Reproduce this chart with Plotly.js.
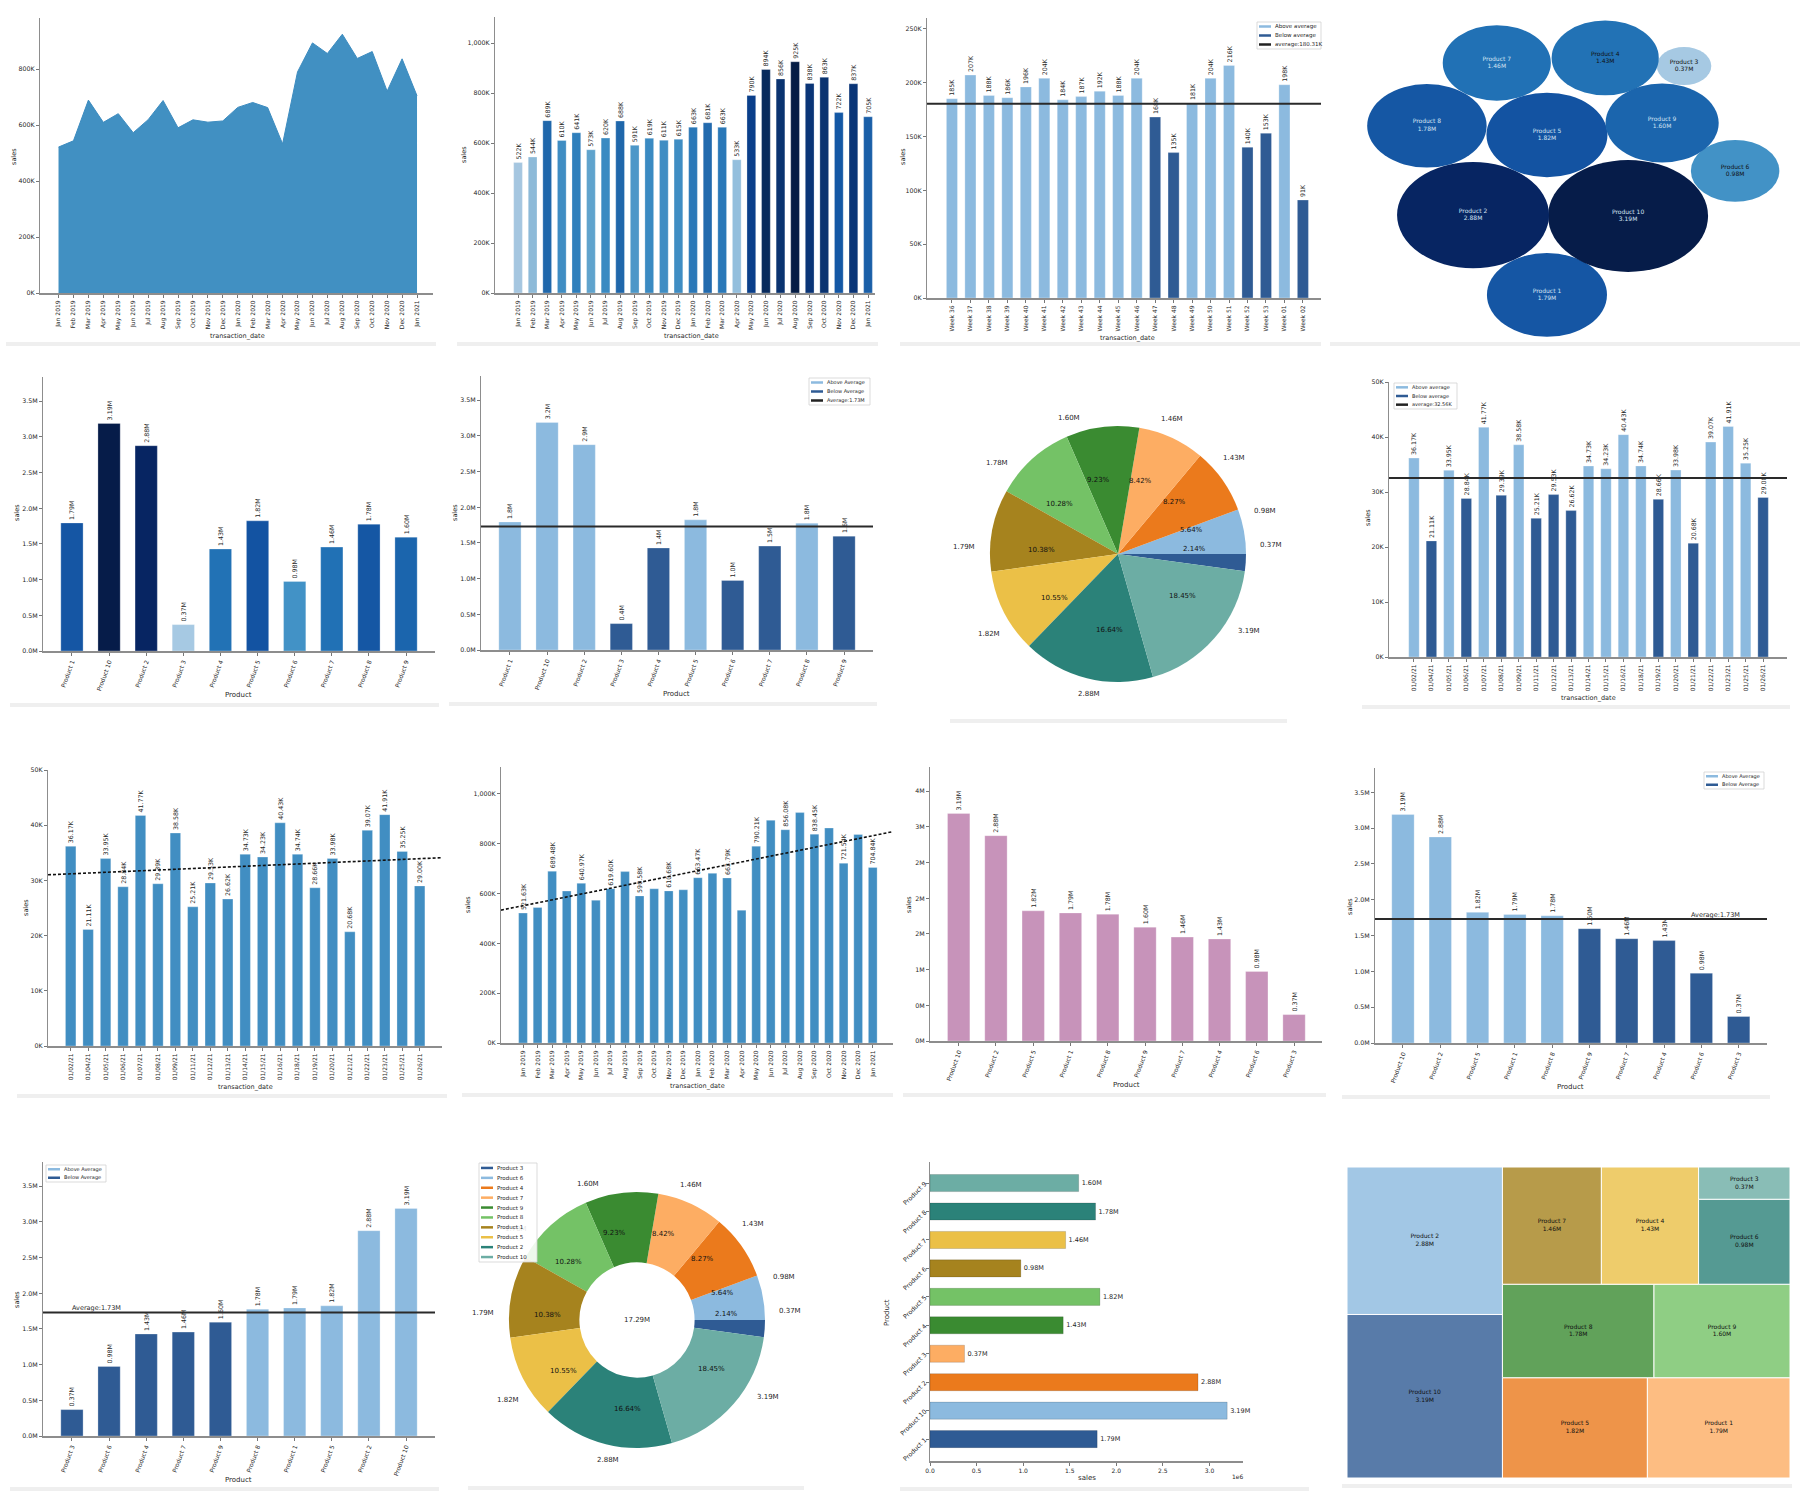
<!DOCTYPE html>
<html><head><meta charset="utf-8">
<script src="https://cdn.plot.ly/plotly-3.0.1.min.js"></script>
<style>
html,body{margin:0;padding:0;background:#fff;width:1800px;height:1500px;overflow:hidden;position:relative}
.pn{position:absolute}
.band{position:absolute;height:4px;background:#efefef}
</style></head><body>
<script>
// ================= DATA =================
const months = ['Jan 2019','Feb 2019','Mar 2019','Apr 2019','May 2019','Jun 2019','Jul 2019','Aug 2019','Sep 2019','Oct 2019','Nov 2019','Dec 2019','Jan 2020','Feb 2020','Mar 2020','Apr 2020','May 2020','Jun 2020','Jul 2020','Aug 2020','Sep 2020','Oct 2020','Nov 2020','Dec 2020','Jan 2021'];
const monthlySalesK = [521.63,544,689.48,610,640.97,573,619.60,688,590.58,619,610.68,615,663.47,681,662.79,533,790.21,894,856.08,925,838.45,863,721.54,837,704.84];

const weeks = ['Week 36','Week 37','Week 38','Week 39','Week 40','Week 41','Week 42','Week 43','Week 44','Week 45','Week 46','Week 47','Week 48','Week 49','Week 50','Week 51','Week 52','Week 53','Week 01','Week 02'];
const weeklySalesK = [185,207,188,186,196,204,184,187,192,188,204,168,135,181,204,216,140,153,198,91];
const weeklyAverageK = 180.31;

const days = ['01/02/21','01/04/21','01/05/21','01/06/21','01/07/21','01/08/21','01/09/21','01/11/21','01/12/21','01/13/21','01/14/21','01/15/21','01/16/21','01/18/21','01/19/21','01/20/21','01/21/21','01/22/21','01/23/21','01/25/21','01/26/21'];
const dailySalesK = [36.17,21.11,33.95,28.84,41.77,29.39,38.58,25.21,29.53,26.62,34.73,34.23,40.43,34.74,28.66,33.98,20.68,39.07,41.91,35.25,29.00];
const dailyAverageK = 32.56;

const products = ['Product 1','Product 10','Product 2','Product 3','Product 4','Product 5','Product 6','Product 7','Product 8','Product 9'];
const productSalesM = [1.7947,3.1900,2.8771,0.3700,1.4299,1.8241,0.9752,1.4558,1.7774,1.5959];
const productAverageM = 1.73;

// ================= STYLES =================
const F = "DejaVu Sans, Verdana, sans-serif";
const TXT = '#1f1f1f';
const LIGHT = '#8cbadf', DARK = '#2f5b94';
const BAR_BLUE = '#418ec2';
const MAUVE = '#c793ba';
const palette = ['#2f5b94','#8cbadf','#eb7a1c','#fdad63','#3a8b31','#74c266','#a6831e','#ebc047','#2b8279','#6cada4'];
const monthColors = ['#a5c6e0','#8dbad8','#1f67ab','#3f8dc3','#2f7fbc','#5fa3cd','#3a8ac2','#1f67ab','#4c97c8','#3a8ac2','#3f8dc3','#3f8dc3','#2a78b8','#226aae','#2a78b8','#94bfdd','#0a3f8a','#082a5c','#0a3370','#061d45','#0a3577','#0a3370','#1458a5','#0a3577','#1a5fa8'];
const productBlues = {'Product 1':'#1556a4','Product 10':'#061c49','Product 2':'#072562','Product 3':'#a6c9e3','Product 4':'#2272b5','Product 5':'#1353a2','Product 6':'#4292c6','Product 7':'#2171b5','Product 8':'#1557a4','Product 9':'#1b65ad'};
// bubble-pack layout positions (centres, in radius units)
const bubbleCenters = {'Product 1':[4.62,1.44],'Product 2':[2.97,3.99],'Product 3':[7.68,8.75],'Product 4':[5.92,9.01],'Product 5':[4.62,6.55],'Product 6':[8.82,5.40],'Product 7':[3.50,8.85],'Product 8':[1.94,6.84],'Product 9':[7.19,6.93],'Product 10':[6.43,3.96]};

// ================= HELPERS =================
const AX = {showgrid:false, zeroline:false, showline:true, linecolor:'#8d8d8d', linewidth:1, ticks:'outside', ticklen:3, tickwidth:0.8, tickcolor:'#555', tickfont:{family:F,size:6.3,color:TXT}, automargin:false, fixedrange:true};
const XT = {family:F,size:6,color:TXT};
function mk(box){const d=document.createElement('div');d.className='pn';d.style.left=box[0]+'px';d.style.top=box[1]+'px';d.style.width=box[2]+'px';d.style.height=box[3]+'px';document.body.appendChild(d);return d;}
function margins(box,area){return {l:area[0]-box[0], r:box[0]+box[2]-area[1], t:area[2]-box[1], b:box[1]+box[3]-area[3], pad:0, autoexpand:false};}
function pp(area,px,py){return [(px-area[0])/(area[1]-area[0]), (area[3]-py)/(area[3]-area[2])];}
function ann(area,px,py,text,opt){const p=pp(area,px,py);return Object.assign({xref:'paper',yref:'paper',x:p[0],y:p[1],text:text,showarrow:false,xanchor:'center',yanchor:'middle',font:{family:F,size:7,color:TXT}},opt||{});}
function ytitle(area,px,py,text,size){return ann(area,px,py,text,{textangle:-90,font:{family:F,size:size||7,color:TXT}});}
function xtitle(area,px,py,text,size){return ann(area,px,py,text,{font:{family:F,size:size||7,color:TXT}});}
function legendParts(area,b,items,fs,bg){
  const sh=[],an=[];const a=pp(area,b[0],b[3]),c=pp(area,b[2],b[1]);
  sh.push({type:'rect',xref:'paper',yref:'paper',x0:a[0],y0:a[1],x1:c[0],y1:c[1],fillcolor:bg||'rgba(255,255,255,0.8)',line:{color:'#d2d2d2',width:0.8},layer:'above'});
  const h=(b[3]-b[1])/items.length;
  items.forEach((it,i)=>{const yc=b[1]+h*(i+0.5);const p0=pp(area,b[0]+2,yc),p1=pp(area,b[0]+14,yc),pt=pp(area,b[0]+16,yc);
    sh.push({type:'line',xref:'paper',yref:'paper',x0:p0[0],y0:p0[1],x1:p1[0],y1:p1[1],line:{color:it.c,width:2.5},layer:'above'});
    an.push({xref:'paper',yref:'paper',x:pt[0],y:pt[1],text:it.t,showarrow:false,xanchor:'left',yanchor:'middle',font:{family:F,size:fs||5.5,color:TXT}});});
  return {sh,an};
}
function idx(n){return Array.from({length:n},(_,i)=>i);}
function linfit(ys){const n=ys.length;const xm=(n-1)/2;const ym=ys.reduce((a,b)=>a+b,0)/n;let sxy=0,sxx=0;ys.forEach((y,i)=>{sxy+=(i-xm)*(y-ym);sxx+=(i-xm)*(i-xm);});const m=sxy/sxx;return x=>ym+m*(x-xm);}
function roundHalfEven(v){const f=Math.floor(v);const d=v-f;if(Math.abs(d-0.5)<1e-9)return f%2===0?f:f+1;return Math.round(v);}
function band(x0,x1,y){const b=document.createElement('div');b.className='band';b.style.left=x0+'px';b.style.width=(x1-x0)+'px';b.style.top=y+'px';document.body.appendChild(b);}
function plot(box,area,traces,lay){const d=mk(box);const L=Object.assign({width:box[2],height:box[3],margin:margins(box,area),paper_bgcolor:'rgba(0,0,0,0)',plot_bgcolor:'rgba(0,0,0,0)',showlegend:false,bargap:0,font:{family:F,size:7,color:TXT}},lay);Plotly.newPlot(d,traces,L,{staticPlot:true});}
function barTrace(x,y,colors,text,extra){return Object.assign({type:'bar',x:x,y:y,width:0.6,marker:{color:colors,line:{color:'rgba(255,255,255,0.35)',width:0.8}},text:text,textposition:'outside',textangle:-90,textfont:{family:F,size:6.3,color:TXT},constraintext:'none',cliponaxis:false},extra||{});}
function hline(xr,y){return {type:'scatter',mode:'lines',x:xr,y:[y,y],line:{color:'#2a2a2a',width:2},hoverinfo:'skip'};}
function xax(o){return Object.assign({},AX,{linewidth:2,tickfont:XT},o);}
function yax(o){return Object.assign({},AX,o);}

const fmtK0 = v=>Math.round(v)+'K';
const fmtK2 = v=>v.toFixed(2)+'K';
const fmtM2 = v=>v.toFixed(2)+'M';
const fmtM1 = v=>v.toFixed(1)+'M';
const kTicks = (step,n)=>({vals:idx(n+1).map(i=>i*step*1000),text:idx(n+1).map(i=>(i*step).toLocaleString('en-US')+'K')});
const mTicks = {vals:idx(8).map(i=>i*0.5e6), text:idx(8).map(i=>(i*0.5).toFixed(1)+'M')};

// ================= PANEL 1 : area =================
(function(){
  const box=[0,0,450,345], area=[40,433,18,293];
  const t=kTicks(200,4);
  plot(box,area,[{type:'scatter',mode:'lines',x:idx(months.length),y:monthlySalesK.map(v=>v*1000),fill:'tozeroy',fillcolor:'#4190c2',line:{color:'#3d8cc0',width:1}}],
   {xaxis:xax({range:[-1.24,25.07],tickvals:idx(months.length),ticktext:months,tickangle:-90}),
    yaxis:yax({range:[0,983000],tickvals:t.vals,ticktext:t.text}),
    annotations:[xtitle(area,237,336,'transaction_date',6.5),ytitle(area,14,157,'sales',6.5)]});
})();

// ================= PANEL 2 : monthly bars coloured =================
(function(){
  const box=[450,0,450,345], area=[495,875,17,293];
  const t=kTicks(200,5);
  plot(box,area,[barTrace(idx(months.length),monthlySalesK.map(v=>v*1000),monthColors,monthlySalesK.map(fmtK0))],
   {xaxis:xax({range:[-1.58,24.48],tickvals:idx(months.length),ticktext:months,tickangle:-90}),
    yaxis:yax({range:[0,1104000],tickvals:t.vals,ticktext:t.text}),
    annotations:[xtitle(area,692,336,'transaction_date',6.5),ytitle(area,464,155,'sales',6.5)]});
})();

// ================= PANEL 3 : weekly =================
(function(){
  const box=[890,0,450,345], area=[927,1321,18,298];
  const xr=[-1.35,19.98];
  const t=kTicks(50,5);
  const lg=legendParts(area,[1257,22,1321,49],[{c:LIGHT,t:'Above average'},{c:DARK,t:'Below average'},{c:'#222',t:'average:'+weeklyAverageK.toFixed(2)+'K'}],5.5);
  plot(box,area,[barTrace(idx(weeks.length),weeklySalesK.map(v=>v*1000),weeklySalesK.map(v=>v>=weeklyAverageK?LIGHT:DARK),weeklySalesK.map(fmtK0)),hline(xr,weeklyAverageK*1000)],
   {xaxis:xax({range:xr,tickvals:idx(weeks.length),ticktext:weeks,tickangle:-90}),
    yaxis:yax({range:[0,260000],tickvals:t.vals,ticktext:t.text}),
    shapes:lg.sh, annotations:[xtitle(area,1127,338,'transaction_date',6.5),ytitle(area,903,157,'sales',6.5)].concat(lg.an)});
})();

// ================= PANEL 4 : bubbles =================
(function(){
  const box=[1340,0,450,345], area=[1340,1790,0,345];
  const shapes=[], tx=[], ty=[], tt=[], tc=[];
  products.forEach((p,i)=>{const c=bubbleCenters[p];const r=Math.sqrt(productSalesM[i]);
    shapes.push({type:'circle',xref:'x',yref:'y',x0:c[0]-r,x1:c[0]+r,y0:c[1]-r,y1:c[1]+r,fillcolor:productBlues[p],line:{width:0},layer:'below'});
    tx.push(c[0]);ty.push(c[1]);tt.push(p+'<br>'+fmtM2(productSalesM[i]));tc.push(productSalesM[i]>=1.45?'#d3e3f3':'#111');});
  plot(box,area,[{type:'scatter',mode:'text',x:tx,y:ty,text:tt,textfont:{family:F,size:6,color:tc},hoverinfo:'skip'}],
   {xaxis:{visible:false,range:[0,10.045],fixedrange:true},yaxis:{visible:false,range:[-0.16,10.86],fixedrange:true},shapes:shapes});
})();

// ================= PANEL 5 : product bars (blues) =================
(function(){
  const box=[0,350,450,370], area=[43,435,377,651];
  plot(box,area,[barTrace(idx(10),productSalesM.map(v=>v*1e6),products.map(p=>productBlues[p]),productSalesM.map(fmtM2))],
   {xaxis:xax({range:[-0.78,9.78],tickvals:idx(10),ticktext:products,tickangle:-70}),
    yaxis:yax({range:[0,3.84e6],tickvals:mTicks.vals,ticktext:mTicks.text}),
    annotations:[xtitle(area,238,695,'Product'),ytitle(area,17,513,'sales',6.5)]});
})();

// ================= PANEL 6 : product bars above/below =================
(function(){
  const box=[450,350,450,370], area=[481,873,376,650];
  const xr=[-0.78,9.78];
  const lg=legendParts(area,[809,378,870,405],[{c:LIGHT,t:'Above Average'},{c:DARK,t:'Below Average'},{c:'#222',t:'Average:'+productAverageM.toFixed(2)+'M'}],5);
  plot(box,area,[barTrace(idx(10),productSalesM.map(v=>v*1e6),productSalesM.map(v=>v>=productAverageM?LIGHT:DARK),productSalesM.map(fmtM1)),hline(xr,productAverageM*1e6)],
   {xaxis:xax({range:xr,tickvals:idx(10),ticktext:products,tickangle:-70}),
    yaxis:yax({range:[0,3.84e6],tickvals:mTicks.vals,ticktext:mTicks.text}),
    shapes:lg.sh, annotations:[xtitle(area,676,694,'Product'),ytitle(area,455,513,'sales',6.5)].concat(lg.an)});
})();

// ================= PIE helper =================
const ascOrder = idx(10).sort((a,b)=>productSalesM[a]-productSalesM[b]);
function piePanel(box,cx,cy,R,hole,pd,extraAnn,extraShapes){
  const area=[cx-R,cx+R,cy-R,cy+R];
  const vals=ascOrder.map(i=>productSalesM[i]), labs=ascOrder.map(i=>products[i]);
  const total=vals.reduce((a,b)=>a+b,0);
  let cum=0;const anns=[];
  vals.forEach((v,i)=>{const th=2*Math.PI*(cum+v/2)/total;cum+=v;const c=Math.cos(th),s=Math.sin(th);
    anns.push(ann(area,cx+R*pd*c,cy-R*pd*s,(v/total*100).toFixed(2)+'%',{font:{family:F,size:7,color:'#111'}}));
    anns.push(ann(area,cx+R*1.1*c,cy-R*1.1*s,fmtM2(v),{xanchor:c>0?'left':'right',font:{family:F,size:7,color:TXT}}));});
  plot(box,area,[{type:'pie',values:vals,labels:labs,marker:{colors:palette,line:{width:0}},sort:false,direction:'counterclockwise',rotation:90,hole:hole,textinfo:'none',domain:{x:[0,1],y:[0,1]}}],
   {annotations:anns.concat(extraAnn||[]),shapes:extraShapes||[]});
  return area;
}
// ================= PANEL 7 : pie =================
piePanel([900,350,450,370],1118,554,128,0,0.6);

// ================= PANEL 8 : daily above/below =================
(function(){
  const box=[1340,350,460,370], area=[1389,1787,382,657];
  const xr=[-1.43,21.37];
  const t=kTicks(10,5);
  const lg=legendParts(area,[1394,383,1457,409],[{c:LIGHT,t:'Above average'},{c:DARK,t:'Below average'},{c:'#222',t:'average:'+dailyAverageK.toFixed(2)+'K'}],5);
  plot(box,area,[barTrace(idx(days.length),dailySalesK.map(v=>v*1000),dailySalesK.map(v=>v>=dailyAverageK?LIGHT:DARK),dailySalesK.map(fmtK2)),hline(xr,dailyAverageK*1000)],
   {xaxis:xax({range:xr,tickvals:idx(days.length),ticktext:days,tickangle:-90}),
    yaxis:yax({range:[0,50000],tickvals:t.vals,ticktext:t.text}),
    shapes:lg.sh, annotations:[xtitle(area,1589,698,'transaction_date',6.5),ytitle(area,1368,518,'sales',6.5)].concat(lg.an)});
})();

// ================= PANEL 9 : daily + trend =================
(function(){
  const box=[0,730,450,370], area=[48,442,770,1046];
  const xr=[-1.3,21.28];
  const f=linfit(dailySalesK);
  const t=kTicks(10,5);
  plot(box,area,[barTrace(idx(days.length),dailySalesK.map(v=>v*1000),BAR_BLUE,dailySalesK.map(fmtK2)),
    {type:'scatter',mode:'lines',x:xr,y:xr.map(x=>f(x)*1000),line:{color:'#111',width:1.6,dash:'3px,2px'}}],
   {xaxis:xax({range:xr,tickvals:idx(days.length),ticktext:days,tickangle:-90}),
    yaxis:yax({range:[0,50000],tickvals:t.vals,ticktext:t.text}),
    annotations:[xtitle(area,246,1087,'transaction_date',6.5),ytitle(area,26,908,'sales',6.5)]});
})();

// ================= PANEL 10 : monthly + trend =================
(function(){
  const box=[450,730,450,370], area=[501,893,767,1043];
  const xr=[-1.51,25.39];
  const f=linfit(monthlySalesK);
  const t=kTicks(200,5);
  plot(box,area,[barTrace(idx(months.length),monthlySalesK.map(v=>v*1000),BAR_BLUE,monthlySalesK.map((v,i)=>i%2===0?fmtK2(v):'')),
    {type:'scatter',mode:'lines',x:xr,y:xr.map(x=>f(x)*1000),line:{color:'#111',width:1.6,dash:'3px,2px'}}],
   {xaxis:xax({range:xr,tickvals:idx(months.length),ticktext:months,tickangle:-90}),
    yaxis:yax({range:[0,1108000],tickvals:t.vals,ticktext:t.text}),
    annotations:[xtitle(area,697,1086,'transaction_date',6.5),ytitle(area,468,905,'sales',6.5)]});
})();

// ================= PANEL 11 : sorted desc mauve =================
const descOrder = idx(10).sort((a,b)=>productSalesM[b]-productSalesM[a]);
(function(){
  const box=[900,730,450,370], area=[930,1322,767,1041];
  plot(box,area,[barTrace(idx(10),descOrder.map(i=>productSalesM[i]*1e6),MAUVE,descOrder.map(i=>fmtM2(productSalesM[i])))],
   {xaxis:xax({range:[-0.77,9.75],tickvals:idx(10),ticktext:descOrder.map(i=>products[i]),tickangle:-70}),
    yaxis:yax({range:[0,3.84e6],tickvals:mTicks.vals,ticktext:mTicks.vals.map(v=>roundHalfEven(v/1e6)+'M')}),
    annotations:[xtitle(area,1126,1085,'Product'),ytitle(area,909,905,'sales',6.5)]});
})();

// ================= PANEL 12 : sorted desc above/below =================
(function(){
  const box=[1340,730,460,370], area=[1375,1767,768,1043];
  const xr=[-0.75,9.76];
  const vals=descOrder.map(i=>productSalesM[i]);
  const lg=legendParts(area,[1704,772,1764,789],[{c:LIGHT,t:'Above Average'},{c:DARK,t:'Below Average'}],5);
  plot(box,area,[barTrace(idx(10),vals.map(v=>v*1e6),vals.map(v=>v>=productAverageM?LIGHT:DARK),vals.map(fmtM2)),hline(xr,productAverageM*1e6)],
   {xaxis:xax({range:xr,tickvals:idx(10),ticktext:descOrder.map(i=>products[i]),tickangle:-70}),
    yaxis:yax({range:[0,3.84e6],tickvals:mTicks.vals,ticktext:mTicks.text}),
    shapes:lg.sh, annotations:[xtitle(area,1570,1087,'Product'),ytitle(area,1350,907,'sales',6.5),
      ann(area,1715,915,'Average:'+productAverageM.toFixed(2)+'M',{font:{family:F,size:6.5,color:TXT}})].concat(lg.an)});
})();

// ================= PANEL 13 : sorted asc above/below =================
(function(){
  const box=[0,1100,450,400], area=[43,435,1162,1436];
  const xr=[-0.78,9.78];
  const vals=ascOrder.map(i=>productSalesM[i]);
  const lg=legendParts(area,[46,1165,106,1182],[{c:LIGHT,t:'Above Average'},{c:DARK,t:'Below Average'}],5);
  plot(box,area,[barTrace(idx(10),vals.map(v=>v*1e6),vals.map(v=>v>=productAverageM?LIGHT:DARK),vals.map(fmtM2)),hline(xr,productAverageM*1e6)],
   {xaxis:xax({range:xr,tickvals:idx(10),ticktext:ascOrder.map(i=>products[i]),tickangle:-70}),
    yaxis:yax({range:[0,3.84e6],tickvals:mTicks.vals,ticktext:mTicks.text}),
    shapes:lg.sh, annotations:[xtitle(area,238,1480,'Product'),ytitle(area,17,1300,'sales',6.5),
      ann(area,96,1308,'Average:'+productAverageM.toFixed(2)+'M',{font:{family:F,size:6.5,color:TXT}})].concat(lg.an)});
})();

// ================= PANEL 14 : donut =================
(function(){
  const cx=637,cy=1320,R=128;const area=[cx-R,cx+R,cy-R,cy+R];const box=[450,1100,450,400];
  const total=productSalesM.reduce((a,b)=>a+b,0);
  piePanel(box,cx,cy,R,0.45,0.7,[ann(area,cx,cy,total.toFixed(2)+'M',{font:{family:F,size:7,color:TXT}})],[]);
  // legend drawn in an overlay so it sits above the slice labels (as in the original)
  const lg=legendParts(area,[479,1163,537,1262],ascOrder.map((i,k)=>({c:palette[k],t:products[i]})),5.5,'rgba(255,255,255,0.88)');
  plot(box,area,[],{xaxis:{visible:false,fixedrange:true},yaxis:{visible:false,fixedrange:true},shapes:lg.sh,annotations:lg.an});
})();

// ================= PANEL 15 : horizontal bars =================
(function(){
  const box=[880,1100,460,400], area=[930,1243,1162,1461];
  plot(box,area,[{type:'bar',orientation:'h',y:idx(10),x:productSalesM.map(v=>v*1e6),width:0.6,marker:{color:palette,line:{color:'rgba(0,0,0,0.15)',width:1}},
     text:productSalesM.map(fmtM2),textposition:'outside',textfont:{family:F,size:6.5,color:TXT},constraintext:'none',cliponaxis:false}],
   {xaxis:xax({range:[0,3.36e6],tickvals:idx(7).map(i=>i*0.5e6),ticktext:idx(7).map(i=>(i*0.5).toFixed(1))}),
    yaxis:yax({range:[-0.77,9.74],tickvals:idx(10),ticktext:products,tickangle:-45}),
    annotations:[xtitle(area,1087,1478,'sales'),ytitle(area,887,1313,'Product'),ann(area,1238,1476,'1e6',{font:{family:F,size:6,color:TXT}})]});
})();

// ================= PANEL 16 : treemap (squarify) =================
function sqLayoutRow(s,x,y,dx,dy){const w=s.reduce((a,b)=>a+b,0)/dy;const r=[];s.forEach(v=>{r.push({x:x,y:y,dx:w,dy:v/w});y+=v/w;});return r;}
function sqLayoutCol(s,x,y,dx,dy){const h=s.reduce((a,b)=>a+b,0)/dx;const r=[];s.forEach(v=>{r.push({x:x,y:y,dx:v/h,dy:h});x+=v/h;});return r;}
function sqLayout(s,x,y,dx,dy){return dx>=dy?sqLayoutRow(s,x,y,dx,dy):sqLayoutCol(s,x,y,dx,dy);}
function sqLeft(s,x,y,dx,dy){const a=s.reduce((p,q)=>p+q,0);if(dx>=dy){const w=a/dy;return [x+w,y,dx-w,dy];}const h=a/dx;return [x,y+h,dx,dy-h];}
function sqWorst(s,x,y,dx,dy){return Math.max(...sqLayout(s,x,y,dx,dy).map(r=>Math.max(r.dx/r.dy,r.dy/r.dx)));}
function squarify(s,x,y,dx,dy){if(!s.length)return [];if(s.length===1)return sqLayout(s,x,y,dx,dy);let i=1;
  while(i<s.length && sqWorst(s.slice(0,i),x,y,dx,dy)>=sqWorst(s.slice(0,i+1),x,y,dx,dy))i++;
  const cur=s.slice(0,i),rem=s.slice(i);const lo=sqLeft(cur,x,y,dx,dy);return sqLayout(cur,x,y,dx,dy).concat(squarify(rem,lo[0],lo[1],lo[2],lo[3]));}
(function(){
  const box=[1340,1100,460,400], area=[1347,1790,1167,1478];
  const vals=descOrder.map(i=>productSalesM[i]);const tot=vals.reduce((a,b)=>a+b,0);
  const rects=squarify(vals.map(v=>v*10000/tot),0,0,100,100);
  const shapes=[],tx=[],ty=[],tt=[];
  rects.forEach((r,k)=>{shapes.push({type:'rect',xref:'x',yref:'y',x0:r.x,x1:r.x+r.dx,y0:r.y,y1:r.y+r.dy,fillcolor:palette[k],opacity:0.8,line:{color:'#ffffff',width:1},layer:'below'});
    tx.push(r.x+r.dx/2);ty.push(r.y+r.dy/2);tt.push(products[descOrder[k]]+'<br>'+fmtM2(vals[k]));});
  plot(box,area,[{type:'scatter',mode:'text',x:tx,y:ty,text:tt,textfont:{family:F,size:6,color:'#111'},hoverinfo:'skip'}],
   {xaxis:{visible:false,range:[0,100],fixedrange:true},yaxis:{visible:false,range:[0,100],fixedrange:true},shapes:shapes});
})();

// ================= card separators =================
band(6,436,342);band(457,878,342);band(900,1321,342);band(1330,1800,342);
band(10,439,703);band(449,877,702);band(950,1287,719);band(1362,1790,705);
band(17,447,1094);band(462,893,1093);band(903,1326,1093);band(1342,1770,1095);
band(10,439,1487);band(468,804,1486);band(900,1309,1487);band(1342,1792,1484);
</script>
</body></html>
